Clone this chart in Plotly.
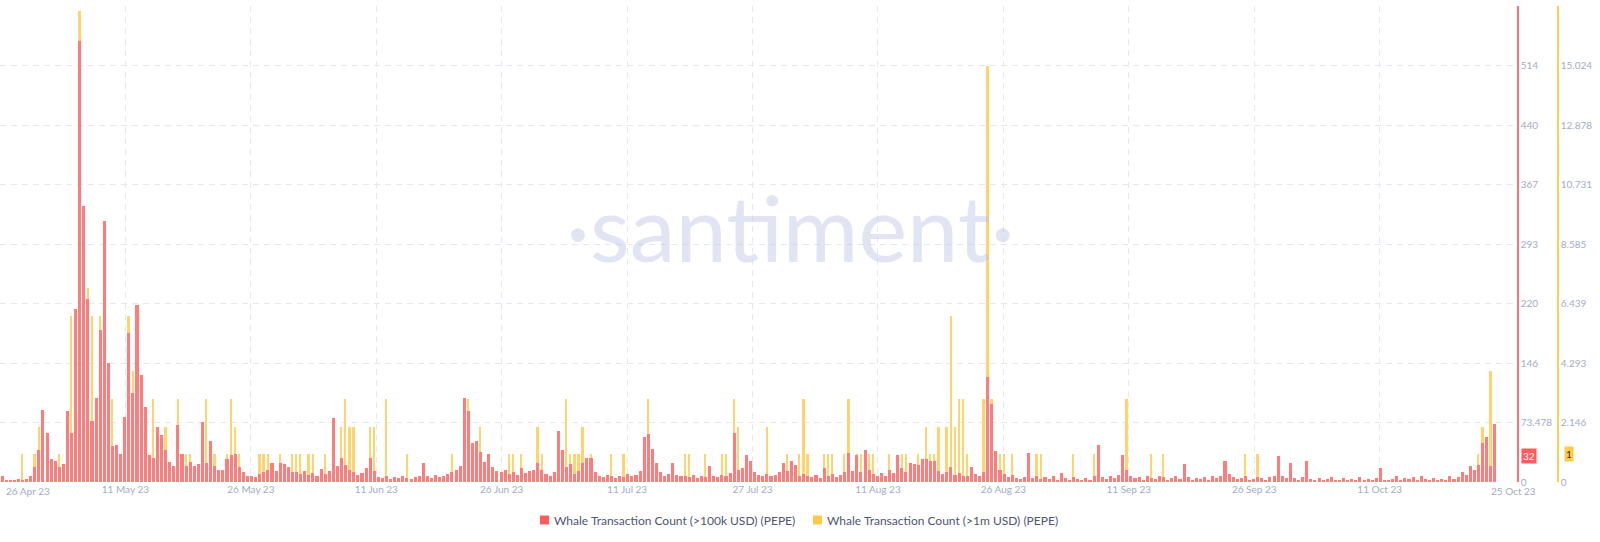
import pandas as pd
import plotly.graph_objects as go

# ---------------- data (12-hour buckets starting 26 Apr 2023) ----------------
red_apr = [8, 3, 2, 2, 4, 3, 4, 8, 18, 40]
red_may = [89, 60, 28, 26, 18, 22, 87, 60, 213, 544,
           340, 226, 75, 104, 187, 322, 147, 44, 46, 35,
           80, 184, 110, 218, 132, 93, 33, 30, 68, 58,
           40, 25, 20, 70, 35, 20, 25, 20, 22, 74,
           24, 50, 20, 15, 15, 28, 33, 35, 18, 12,
           8, 8, 6, 10, 12, 15, 23, 14, 24, 22,
           19, 12]
red_jun = [12, 10, 14, 9, 11, 8, 16, 10, 14, 79,
           20, 29, 21, 15, 12, 9, 11, 17, 30, 14,
           6, 5, 8, 4, 6, 5, 7, 5, 4, 6,
           8, 23, 7, 5, 9, 6, 8, 10, 12, 15,
           20, 103, 87, 48, 51, 37, 25, 34, 18, 14,
           12, 15, 10, 12, 9, 17, 11, 13, 15, 23]
red_jul = [15, 10, 8, 12, 63, 39, 18, 22, 10, 14,
           23, 29, 29, 12, 8, 6, 9, 7, 5, 8,
           6, 10, 7, 9, 14, 55, 59, 41, 24, 12,
           8, 10, 24, 9, 7, 8, 6, 9, 5, 7,
           6, 20, 8, 6, 9, 7, 11, 61, 15, 17,
           33, 26, 12, 9, 8, 10, 7, 9, 12, 24,
           14, 26]
red_aug = [21, 8, 10, 7, 6, 9, 5, 17, 8, 10,
           6, 9, 12, 36, 14, 33, 12, 39, 15, 10,
           8, 11, 7, 15, 11, 33, 17, 12, 23, 22,
           21, 28, 28, 26, 26, 14, 10, 12, 18, 9,
           11, 7, 8, 19, 10, 7, 12, 129, 96, 38,
           15, 10, 6, 9, 5, 4, 6, 36, 5, 7,
           4, 6]
red_sep = [4, 7, 3, 11, 5, 3, 6, 4, 2, 5,
           3, 8, 46, 6, 4, 7, 5, 9, 33, 15,
           8, 5, 6, 3, 7, 5, 4, 8, 6, 3,
           5, 7, 4, 22, 6, 3, 5, 4, 6, 3,
           7, 5, 8, 26, 10, 6, 4, 5, 7, 3,
           4, 6, 5, 3, 6, 8, 32, 7, 5, 23]
red_oct = [5, 3, 6, 26, 4, 3, 5, 2, 4, 6,
           3, 2, 5, 3, 4, 2, 6, 3, 4, 2,
           5, 17, 3, 2, 4, 8, 3, 5, 4, 6,
           3, 8, 4, 3, 5, 2, 4, 3, 7, 4,
           6, 12, 9, 20, 15, 21, 48, 55, 20, 72]

yel_apr = [0, 0, 0, 0, 0, 1, 0, 0, 1, 2]
yel_may = [0, 0, 0, 0, 1, 0, 1, 6, 5, 17,
           8, 7, 6, 0, 6, 0, 4, 3, 0, 0,
           2, 6, 4, 0, 2, 0, 0, 3, 0, 0,
           2, 0, 0, 3, 0, 1, 1, 0, 0, 0,
           3, 0, 1, 0, 0, 1, 3, 2, 1, 0,
           0, 0, 0, 1, 1, 1, 0, 0, 1, 0,
           0, 1]
yel_jun = [1, 1, 0, 1, 1, 0, 0, 1, 0, 2,
           0, 2, 3, 2, 2, 0, 0, 0, 2, 2,
           0, 0, 3, 0, 0, 0, 0, 1, 0, 0,
           0, 0, 0, 0, 0, 0, 0, 0, 1, 0,
           0, 0, 3, 0, 1, 2, 0, 1, 0, 0,
           0, 0, 1, 1, 0, 1, 0, 0, 0, 2]
yel_jul = [1, 0, 0, 0, 0, 1, 3, 1, 1, 1,
           2, 0, 1, 0, 0, 0, 0, 1, 0, 0,
           1, 0, 0, 0, 0, 1, 3, 0, 0, 0,
           0, 0, 0, 0, 0, 1, 1, 0, 0, 0,
           1, 0, 0, 0, 1, 1, 0, 3, 2, 0,
           0, 0, 0, 0, 0, 2, 0, 0, 0, 0,
           1, 0]
yel_aug = [0, 1, 3, 1, 0, 0, 0, 1, 1, 1,
           0, 0, 1, 3, 0, 1, 1, 0, 1, 1,
           0, 0, 0, 1, 0, 0, 1, 1, 0, 0,
           1, 0, 2, 1, 1, 2, 0, 2, 6, 2,
           3, 3, 1, 0, 0, 0, 3, 15, 3, 0,
           1, 1, 0, 1, 0, 0, 0, 1, 0, 1,
           1, 0]
yel_sep = [0, 0, 0, 0, 0, 0, 1, 0, 0, 0,
           0, 1, 0, 0, 0, 0, 0, 0, 0, 3,
           0, 0, 0, 0, 0, 1, 0, 0, 1, 0,
           0, 0, 0, 0, 0, 0, 0, 0, 0, 0,
           0, 0, 0, 0, 0, 0, 0, 0, 1, 0,
           0, 1, 0, 0, 0, 0, 0, 0, 0, 0]
yel_oct = [0] * 45 + [1, 2, 0, 4, 0]

red_last, yel_last = 32, 1

red_name = "Whale Transaction Count (>100k USD) (PEPE)"
yel_name = "Whale Transaction Count (>1m USD) (PEPE)"
x_labels = ["26 Apr 23", "11 May 23", "26 May 23", "11 Jun 23", "26 Jun 23", "11 Jul 23",
            "27 Jul 23", "11 Aug 23", "26 Aug 23", "11 Sep 23", "26 Sep 23", "11 Oct 23"]
end_label = "25 Oct 23"
red_ticks = ["0", "73.478", "146", "220", "293", "367", "440", "514", "587"]
yel_ticks = ["0", "2.146", "4.293", "6.439", "8.585", "10.731", "12.878", "15.024", "17.17"]
red_max, yel_max = 587, 17.17

red = red_apr + red_may + red_jun + red_jul + red_aug + red_sep + red_oct
yel = yel_apr + yel_may + yel_jun + yel_jul + yel_aug + yel_sep + yel_oct

# ---------------- figure ----------------
W, H = 1600, 542
ML, MR, MT, MB = 0, 42, 6, 60
PW, PH = W - ML - MR, H - MT - MB
XDOM = 1517 / PW


def px_x(px):
    return (px - ML) / PW


def px_y(py):
    return (H - MB - py) / PH


start = pd.Timestamp("2023-04-26 00:00")
times = start + pd.to_timedelta(6 + 12 * pd.RangeIndex(len(red)), unit="h")
x_end = start + pd.Timedelta(days=185.45)
tick_pos = [start + pd.Timedelta(days=15.333 * k) for k in range(len(x_labels))]

HOUR = 3600 * 1000
RED = "#FF7C7C"
YEL = "#FFD36E"
GRID = "#E6E8F1"
TICKC = "#A3ABC4"
FONT = "Lato"

fig = go.Figure()
fig.add_trace(go.Bar(x=times, y=yel, yaxis="y", name=yel_name, showlegend=False,
                     marker=dict(color=YEL, line=dict(width=0)), width=5 * HOUR))
fig.add_trace(go.Bar(x=times, y=red, yaxis="y2", name=red_name, showlegend=False,
                     marker=dict(color=RED, line=dict(width=0)), width=9 * HOUR))

fig.update_layout(
    width=W, height=H, margin=dict(l=ML, r=MR, t=MT, b=MB, autoexpand=False),
    paper_bgcolor="white", plot_bgcolor="white",
    barmode="overlay", bargap=0, showlegend=False,
    font=dict(family=FONT, color=TICKC, size=10),
    xaxis=dict(type="date", domain=[0, XDOM], range=[start, x_end],
               tickmode="array", tickvals=tick_pos, ticktext=[""] + x_labels[1:],
               showgrid=True, gridcolor=GRID, griddash="6px,5px", gridwidth=1,
               zeroline=False, showline=False, ticks="", automargin=False,
               tickfont=dict(size=10, color=TICKC)),
    yaxis=dict(range=[0, yel_max], side="right", anchor="free", position=1.0,
               tickmode="array", tickvals=[yel_max * k / 8 for k in range(9)], ticktext=yel_ticks,
               showgrid=False, zeroline=False, showline=True, linecolor="#FFCF55", linewidth=1.5,
               ticks="", automargin=False, tickfont=dict(size=10, color=TICKC)),
    yaxis2=dict(range=[0, red_max], side="right", anchor="x", overlaying="y",
                tickmode="array", tickvals=[red_max * k / 8 for k in range(9)], ticktext=red_ticks,
                showgrid=True, gridcolor=GRID, griddash="6px,5px", gridwidth=1,
                zeroline=False, showline=True, linecolor="#FF7070", linewidth=1.5,
                ticks="", automargin=False, tickfont=dict(size=10, color=TICKC)),
)

# watermark
fig.add_annotation(text="·santiment·", xref="paper", yref="paper", x=px_x(790), y=px_y(226),
                   showarrow=False,
                   font=dict(size=92, color="rgba(180,188,222,0.4)", family=FONT),
                   xanchor="center", yanchor="middle")
# first and last date labels
fig.add_annotation(text=x_labels[0], xref="paper", yref="paper", x=px_x(4), y=px_y(491),
                   showarrow=False, xanchor="left", yanchor="middle",
                   font=dict(size=10, color=TICKC, family=FONT))
fig.add_annotation(text=end_label, xref="paper", yref="paper", x=px_x(1513), y=px_y(491),
                   showarrow=False, xanchor="center", yanchor="middle",
                   font=dict(size=10, color=TICKC, family=FONT))
# last value badges
fig.add_annotation(text=str(red_last), xref="paper", yref="y2", x=px_x(1521), y=red_last,
                   showarrow=False, xanchor="left", yanchor="middle", bgcolor="#FF5B5B",
                   borderpad=1, font=dict(size=10, color="white", family=FONT))
fig.add_annotation(text=str(yel_last), xref="paper", yref="y", x=px_x(1564), y=yel_last,
                   showarrow=False, xanchor="left", yanchor="middle", bgcolor="#FFCB47",
                   borderpad=1, font=dict(size=10, color="#333333", family=FONT))

# legend (drawn as swatches + labels)
legend_items = [(red_name, "#FF5B5B", 540), (yel_name, "#FFCB47", 813)]
for name, col, x0 in legend_items:
    fig.add_shape(type="rect", xref="paper", yref="paper", x0=px_x(x0), x1=px_x(x0 + 9),
                  y0=px_y(524.5), y1=px_y(515.5), fillcolor=col, line=dict(width=0))
    fig.add_annotation(text=name, xref="paper", yref="paper", x=px_x(x0 + 12), y=px_y(520),
                       showarrow=False, xanchor="left", yanchor="middle",
                       font=dict(size=12, color="#4F5572", family=FONT))

fig.write_html("out.html", config={"displayModeBar": False},
               post_script="document.body.style.margin='0px';document.body.style.overflow='hidden';")
